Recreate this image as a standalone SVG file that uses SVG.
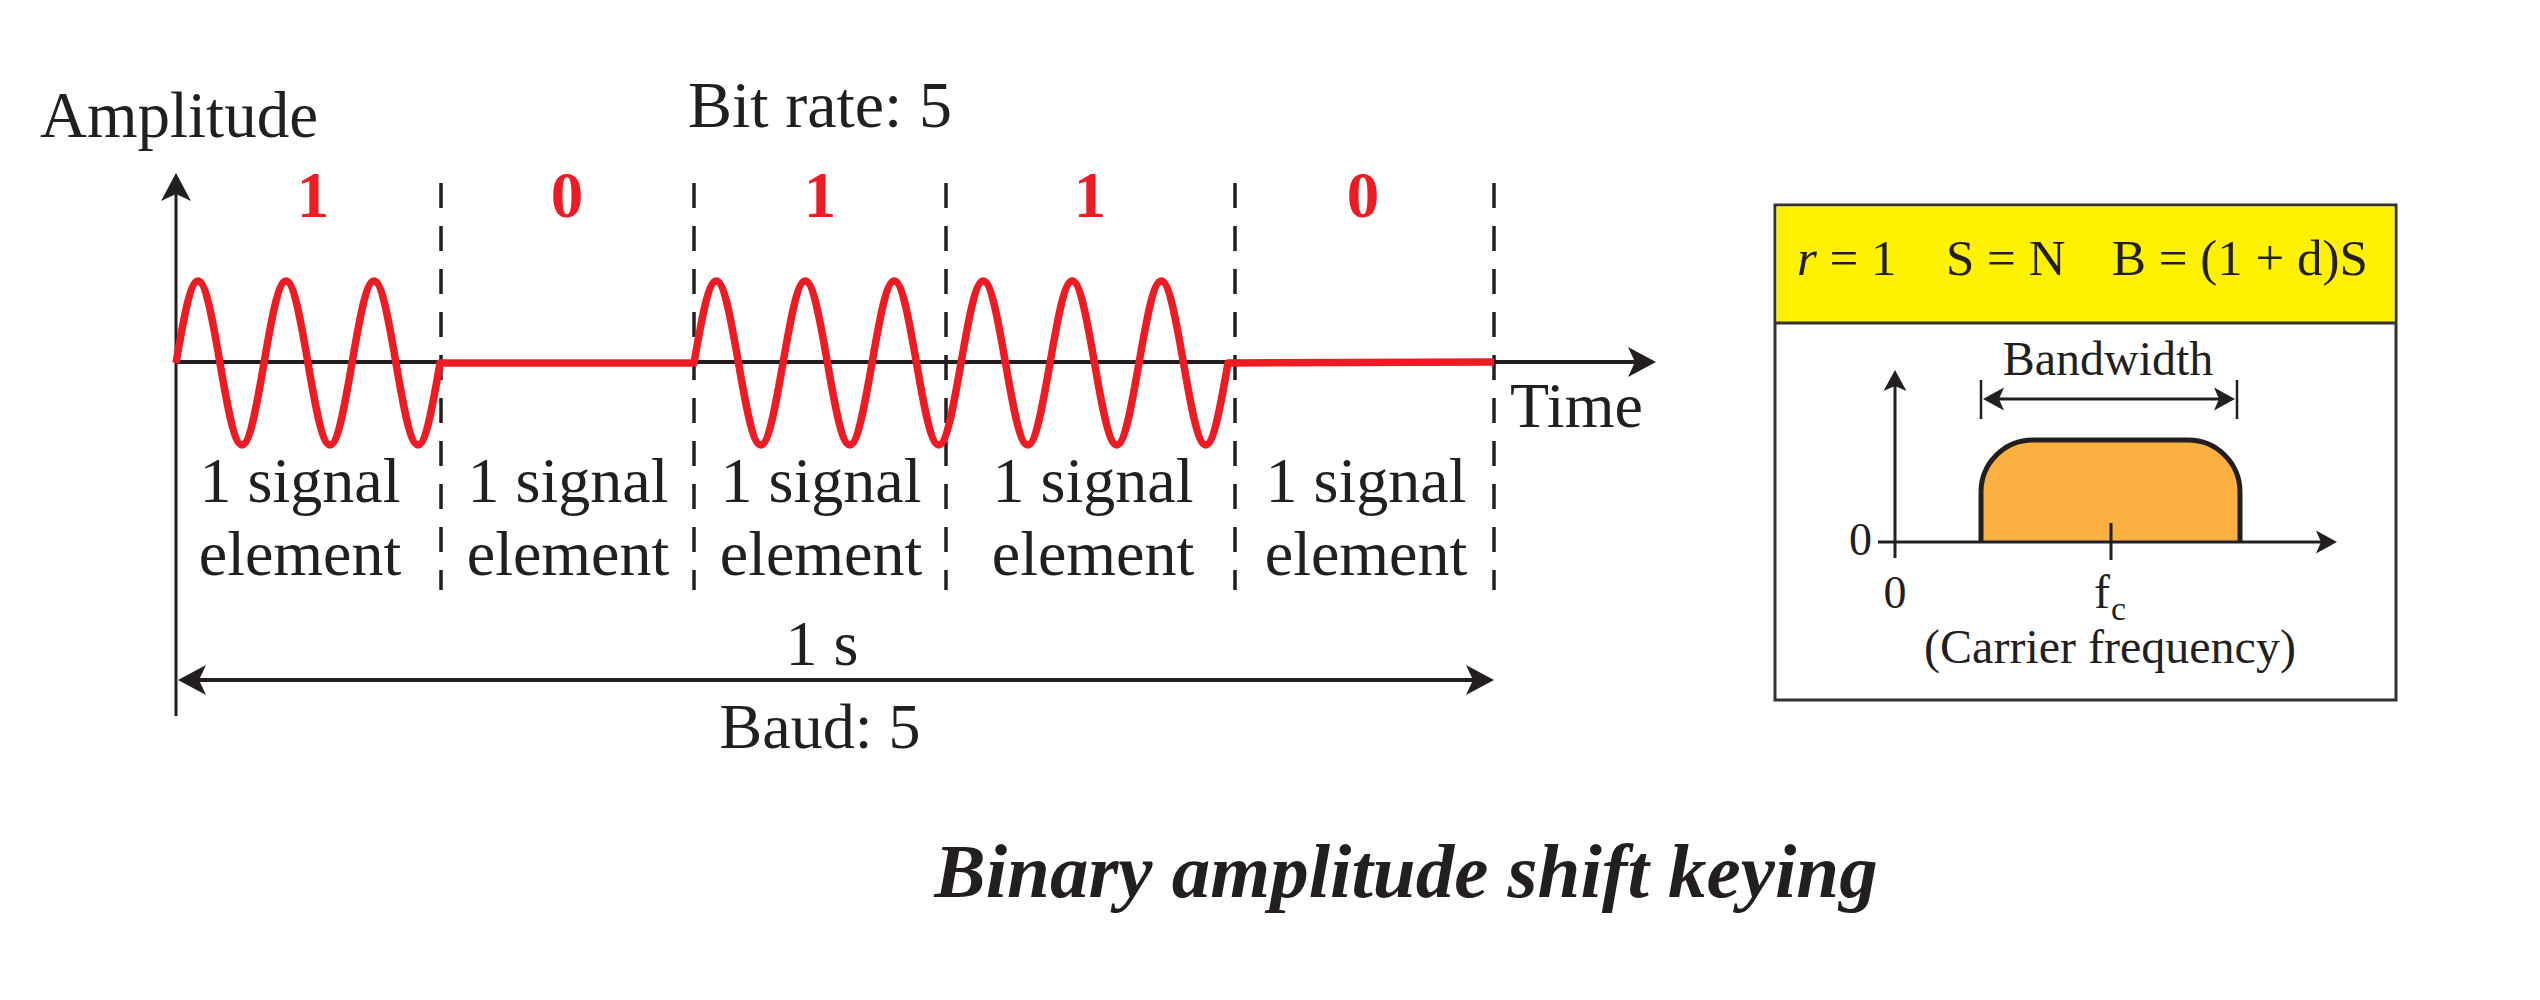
<svg xmlns="http://www.w3.org/2000/svg" width="2540" height="1000" viewBox="0 0 2540 1000">
<style>
text{font-family:"Liberation Serif","Times New Roman",serif;fill:#231f20}
.lbl{font-size:64px;text-anchor:middle}
.bit{font-size:65px;font-weight:bold;fill:#ed1c24;text-anchor:middle}
.ax{stroke:#231f20;fill:none}
.dash{stroke:#231f20;stroke-width:3.5;stroke-dasharray:25 18;fill:none}
.ah{fill:#231f20}
.sm{font-size:48px}
</style>
<defs>
<path id="ah" d="M0,0 L-28,-15 L-21,0 L-28,15 Z"/>
<path id="ahs" d="M0,0 L-21,-11.5 L-16,0 L-21,11.5 Z"/>
</defs>
<rect width="2540" height="1000" fill="#fff"/>

<g id="axes">
<line class="ax" x1="176" y1="716" x2="176" y2="185" stroke-width="3"/>
<use href="#ah" class="ah" transform="translate(176,173) rotate(-90)"/>
<line class="ax" x1="176" y1="362" x2="1640" y2="362" stroke-width="4"/>
<use href="#ah" class="ah" transform="translate(1656,362)"/>
<text x="40" y="137" font-size="65">Amplitude</text>
<text x="1510" y="427" font-size="64">Time</text>
</g>

<g id="dividers">
<line class="dash" x1="441" y1="183" x2="441" y2="590"/>
<line class="dash" x1="694" y1="183" x2="694" y2="590"/>
<line class="dash" x1="946" y1="183" x2="946" y2="590"/>
<line class="dash" x1="1235" y1="183" x2="1235" y2="590"/>
<line class="dash" x1="1494" y1="183" x2="1494" y2="590"/>
</g>

<g id="signal">
<path fill="none" stroke="#ed1c24" stroke-width="7.5" stroke-linejoin="round" d="M176,363
c7.17,-42 14.04,-82 22,-82 c7.96,0 14.83,40 22,82 c7.17,42 14.04,82 22,82 c7.96,0 14.83,-40 22,-82
c7.17,-42 14.04,-82 22,-82 c7.96,0 14.83,40 22,82 c7.17,42 14.04,82 22,82 c7.96,0 14.83,-40 22,-82
c7.17,-42 14.04,-82 22,-82 c7.96,0 14.83,40 22,82 c7.17,42 14.04,82 22,82 c7.96,0 14.83,-40 22,-82
L694,363
c7.26,-42 14.2,-82 22.25,-82 c8.05,0 14.99,40 22.25,82 c7.26,42 14.2,82 22.25,82 c8.05,0 14.99,-40 22.25,-82
c7.26,-42 14.2,-82 22.25,-82 c8.05,0 14.99,40 22.25,82 c7.26,42 14.2,82 22.25,82 c8.05,0 14.99,-40 22.25,-82
c7.26,-42 14.2,-82 22.25,-82 c8.05,0 14.99,40 22.25,82 c7.26,42 14.2,82 22.25,82 c8.05,0 14.99,-40 22.25,-82
c7.26,-42 14.2,-82 22.25,-82 c8.05,0 14.99,40 22.25,82 c7.26,42 14.2,82 22.25,82 c8.05,0 14.99,-40 22.25,-82
c7.26,-42 14.2,-82 22.25,-82 c8.05,0 14.99,40 22.25,82 c7.26,42 14.2,82 22.25,82 c8.05,0 14.99,-40 22.25,-82
c7.26,-42 14.2,-82 22.25,-82 c8.05,0 14.99,40 22.25,82 c7.26,42 14.2,82 22.25,82 c8.05,0 14.99,-40 22.25,-82
L1494,362"/>
</g>

<g id="bits">
<text x="688" y="127" font-size="66">Bit rate: 5</text>
<text class="bit" x="313" y="217">1</text>
<text class="bit" x="567" y="217">0</text>
<text class="bit" x="820" y="217">1</text>
<text class="bit" x="1090" y="217">1</text>
<text class="bit" x="1363" y="217">0</text>
</g>

<g id="elements">
<text class="lbl" x="300" y="502">1 signal</text>
<text class="lbl" x="300" y="575">element</text>
<text class="lbl" x="568" y="502">1 signal</text>
<text class="lbl" x="568" y="575">element</text>
<text class="lbl" x="821" y="502">1 signal</text>
<text class="lbl" x="821" y="575">element</text>
<text class="lbl" x="1093" y="502">1 signal</text>
<text class="lbl" x="1093" y="575">element</text>
<text class="lbl" x="1366" y="502">1 signal</text>
<text class="lbl" x="1366" y="575">element</text>
</g>

<g id="duration">
<line class="ax" x1="190" y1="680" x2="1482" y2="680" stroke-width="4"/>
<use href="#ah" class="ah" transform="translate(178,680) rotate(180)"/>
<use href="#ah" class="ah" transform="translate(1494,680)"/>
<text class="lbl" x="822" y="665">1 s</text>
<text class="lbl" x="820" y="748" font-size="65">Baud: 5</text>
</g>

<g id="spectrum-panel">
<rect x="1775" y="205" width="621" height="495" fill="#fff" stroke="#333" stroke-width="3"/>
<rect x="1776.5" y="206.5" width="618" height="116.5" fill="#fff200"/>
<line x1="1775" y1="323" x2="2396" y2="323" stroke="#333" stroke-width="3"/>
<text x="1797" y="275" font-size="51"><tspan font-style="italic">r</tspan> = 1</text>
<text x="1946" y="275" font-size="51">S = N</text>
<text x="2112" y="275" font-size="51">B = (1 + d)S</text>
<path d="M1981,542 L1981,492 A52,52 0 0 1 2033,440 L2188,440 A52,52 0 0 1 2240,492 L2240,542 Z" fill="#fbb040"/>
<path d="M1981,542 L1981,492 A52,52 0 0 1 2033,440 L2188,440 A52,52 0 0 1 2240,492 L2240,542" fill="none" stroke="#231f20" stroke-width="5"/>
<line class="ax" x1="1878" y1="542" x2="2322" y2="542" stroke-width="3"/>
<use href="#ahs" class="ah" transform="translate(2337,542)"/>
<line class="ax" x1="1895" y1="558" x2="1895" y2="385" stroke-width="3"/>
<use href="#ahs" class="ah" transform="translate(1895,370) rotate(-90)"/>
<line class="ax" x1="2111" y1="523" x2="2111" y2="560" stroke-width="3"/>
<line class="ax" x1="1981" y1="380" x2="1981" y2="419" stroke-width="2.5"/>
<line class="ax" x1="2237" y1="380" x2="2237" y2="419" stroke-width="2.5"/>
<line class="ax" x1="1995" y1="399" x2="2223" y2="399" stroke-width="3"/>
<use href="#ahs" class="ah" transform="translate(1983,399) rotate(180)"/>
<use href="#ahs" class="ah" transform="translate(2235,399)"/>
<text class="sm" x="2108" y="375" text-anchor="middle">Bandwidth</text>
<text x="1872" y="555" font-size="46" text-anchor="end">0</text>
<text x="1895" y="608" font-size="46" text-anchor="middle">0</text>
<text x="2094" y="608" font-size="48">f<tspan font-size="34" dx="1" dy="12">c</tspan></text>
<text class="sm" x="2110" y="663" text-anchor="middle">(Carrier frequency)</text>
</g>

<g id="title">
<text x="1406" y="897" font-size="77" font-weight="bold" font-style="italic" text-anchor="middle">Binary amplitude shift keying</text>
</g>
</svg>
